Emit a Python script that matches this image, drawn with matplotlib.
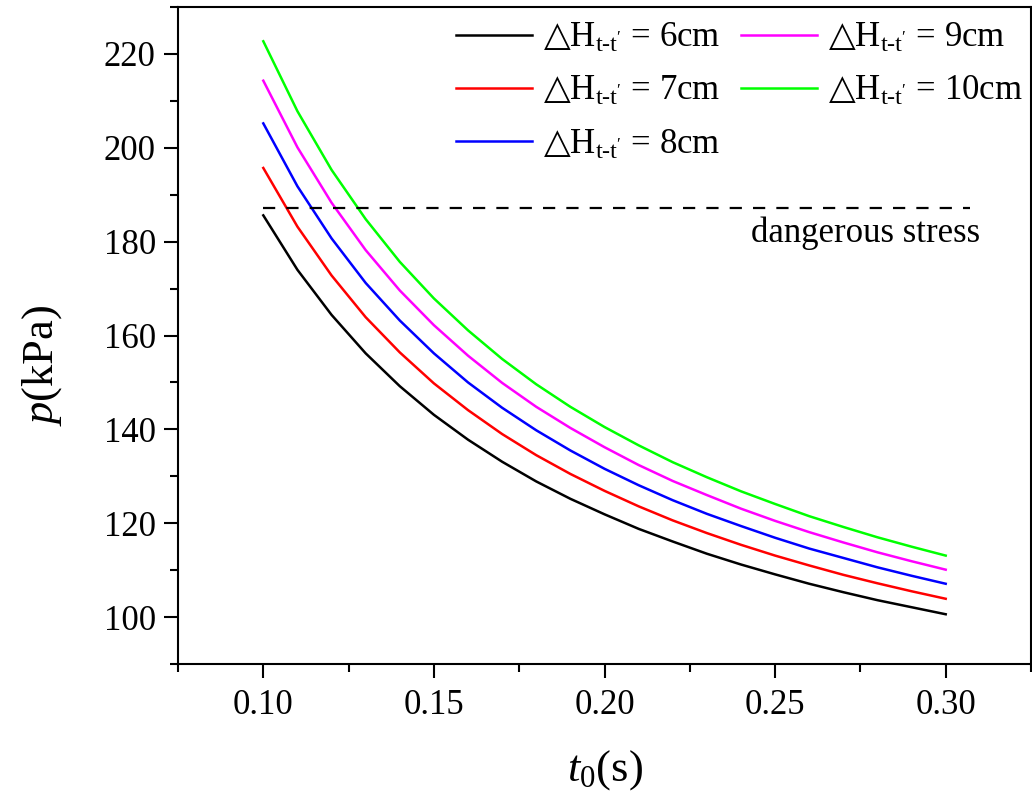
import matplotlib
matplotlib.use("Agg")
import matplotlib.pyplot as plt
from matplotlib.ticker import MultipleLocator, FormatStrFormatter

plt.rcParams['font.family'] = ['Liberation Serif', 'DejaVu Sans']
plt.rcParams['mathtext.fontset'] = 'custom'
plt.rcParams['mathtext.rm'] = 'Liberation Serif'
plt.rcParams['mathtext.it'] = 'Liberation Serif:italic'
plt.rcParams['mathtext.bf'] = 'Liberation Serif:bold'
plt.rcParams['mathtext.sf'] = 'Noto Sans CJK SC'
plt.rcParams['mathtext.fallback'] = 'stix'

# ---- data ----
t0 = [0.10, 0.11, 0.12, 0.13, 0.14, 0.15, 0.16, 0.17, 0.18, 0.19, 0.20,
      0.21, 0.22, 0.23, 0.24, 0.25, 0.26, 0.27, 0.28, 0.29, 0.30]

p_6cm = [185.6, 174.0, 164.4, 156.2, 149.2, 143.1, 137.8, 133.1, 128.9, 125.2, 121.9,
         118.8, 116.1, 113.5, 111.2, 109.1, 107.1, 105.3, 103.6, 102.1, 100.6]
p_7cm = [195.7, 183.2, 172.8, 163.9, 156.4, 149.8, 144.1, 139.0, 134.5, 130.5, 126.9,
         123.6, 120.6, 117.9, 115.4, 113.1, 111.0, 109.0, 107.2, 105.5, 103.9]
p_8cm = [205.2, 191.8, 180.7, 171.2, 163.2, 156.2, 150.0, 144.6, 139.8, 135.5, 131.6,
         128.1, 124.9, 122.0, 119.4, 116.9, 114.6, 112.6, 110.6, 108.8, 107.1]
p_9cm = [214.3, 200.1, 188.3, 178.2, 169.6, 162.2, 155.7, 149.9, 144.8, 140.3, 136.2,
         132.4, 129.0, 126.0, 123.1, 120.5, 118.1, 115.9, 113.8, 111.9, 110.1]
p_10cm = [222.7, 207.8, 195.3, 184.8, 175.7, 167.9, 161.1, 155.0, 149.6, 144.8, 140.5,
          136.6, 133.0, 129.8, 126.8, 124.1, 121.5, 119.2, 117.0, 115.0, 113.1]

series_labels = [r"$\mathsf{△}$H$_{\mathrm{t\text{-}t'}}$ = 6cm",
                 r"$\mathsf{△}$H$_{\mathrm{t\text{-}t'}}$ = 7cm",
                 r"$\mathsf{△}$H$_{\mathrm{t\text{-}t'}}$ = 8cm",
                 r"$\mathsf{△}$H$_{\mathrm{t\text{-}t'}}$ = 9cm",
                 r"$\mathsf{△}$H$_{\mathrm{t\text{-}t'}}$ = 10cm"]
series_colors = ['#000000', '#ff0000', '#0000ff', '#ff00ff', '#00ff00']

danger_stress = 187.1
danger_t = [0.10, 0.307]
danger_label = "dangerous stress"

# ---- figure ----
fig = plt.figure(figsize=(10.32, 8.01), dpi=100)
ax = fig.add_axes([178 / 1032, 1 - 664 / 801, 853 / 1032, 657 / 801])

for vals, lab, col in zip([p_6cm, p_7cm, p_8cm, p_9cm, p_10cm], series_labels, series_colors):
    ax.plot(t0, vals, color=col, lw=1.8, label=lab)

ax.plot(danger_t, [danger_stress, danger_stress], color='black', lw=1.6,
        dashes=(5.5, 5))
ax.text(0.243, 181.8, danger_label, fontsize=25, ha='left', va='center')

ax.set_xlim(0.075, 0.325)
ax.set_ylim(90, 230)
ax.xaxis.set_major_locator(MultipleLocator(0.05))
ax.xaxis.set_minor_locator(MultipleLocator(0.025))
ax.yaxis.set_major_locator(MultipleLocator(20))
ax.yaxis.set_minor_locator(MultipleLocator(10))
ax.xaxis.set_major_formatter(FormatStrFormatter('%.2f'))

for s in ax.spines.values():
    s.set_linewidth(1.5)
ax.tick_params(which='major', direction='out', length=10, width=1.5,
               labelsize=25, top=False, right=False)
ax.tick_params(which='minor', direction='out', length=5.5, width=1.5,
               top=False, right=False)
ax.tick_params(axis='y', which='major', pad=6)
ax.tick_params(axis='x', which='major', pad=8)

ax.set_xlabel(r"$\mathit{t}_{\mathrm{0}}$(s)", fontsize=32)
ax.set_ylabel(r"$\mathit{p}$(kPa)", fontsize=32)
ax.xaxis.label.set_va('center')
ax.yaxis.label.set_va('center')
ax.xaxis.set_label_coords(0.5, (664 - 770) / 657)
ax.yaxis.set_label_coords((42 - 178) / 853, (664 - 365) / 657)

leg = ax.legend(loc='upper left', bbox_to_anchor=(456 / 1032, 1 - 22 / 801),
                bbox_transform=fig.transFigure, ncol=2, frameon=False,
                fontsize=25, handlelength=2.2, handletextpad=0.3,
                columnspacing=0.6, labelspacing=0.58, borderpad=0,
                borderaxespad=0)
for line in leg.get_lines():
    line.set_linewidth(1.8)

fig.savefig("out.png", dpi=100, facecolor='white')
